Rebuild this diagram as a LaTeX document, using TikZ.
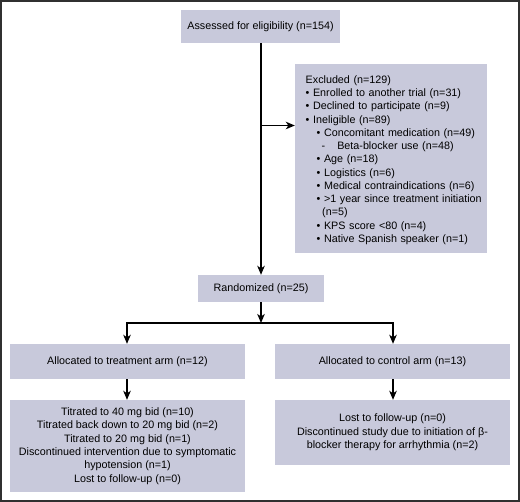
\documentclass[tikz,border=0pt]{standalone}
\usepackage{fontspec}
\setmainfont{Liberation Sans}
\usetikzlibrary{arrows.meta,positioning}
\definecolor{boxfill}{HTML}{C8C9DB}
\definecolor{frame}{HTML}{303030}
\tikzset{
  box/.style={fill=boxfill, draw=none, inner sep=0pt, align=center, font=\fontsize{10.8}{13.35}\selectfont},
  txt/.style={inner sep=0pt, align=left, font=\fontsize{10.8}{13.3}\selectfont},
  conn/.style={line width=1.4bp, -{Stealth[length=9bp,width=7.5bp,inset=2.5bp]}},
  plain/.style={line width=1.4bp}
}
\begin{document}
\begin{tikzpicture}[x=1bp,y=-1bp]
\useasboundingbox (0,0) rectangle (520,502);
\draw[frame, line width=2bp] (1,1) rectangle (519,501);
% boxes
\node[box, minimum width=159bp, minimum height=33bp] (assess) at (260.5,26.5) {Assessed for eligibility (n=154)};
\node[box, minimum width=192bp, minimum height=189bp] (excl) at (391,158.5) {};
\node[txt, text width=180bp, anchor=west] (excltext) at (305.5,160) {Excluded (n=129)\\
\textbullet\ Enrolled to another trial (n=31)\\
\textbullet\ Declined to participate (n=9)\\
\textbullet\ Ineligible (n=89)\\
\hspace*{11bp}\textbullet\ Concomitant medication (n=49)\\
\hspace*{16bp}-\hspace*{12bp}Beta-blocker use (n=48)\\
\hspace*{11bp}\textbullet\ Age (n=18)\\
\hspace*{11bp}\textbullet\ Logistics (n=6)\\
\hspace*{11bp}\textbullet\ Medical contraindications (n=6)\\
\hspace*{11bp}\textbullet\ >1 year since treatment initiation\\
\hspace*{16.5bp}(n=5)\\
\hspace*{11bp}\textbullet\ KPS score <80 (n=4)\\
\hspace*{11bp}\textbullet\ Native Spanish speaker (n=1)};
\node[box, minimum width=126bp, minimum height=27bp] (rand) at (261,288.5) {Randomized (n=25)};
\node[box, minimum width=235bp, minimum height=35bp] (treat) at (127.5,361.5) {Allocated to treatment arm (n=12)};
\node[box, minimum width=235bp, minimum height=35bp] (ctrl) at (392.5,361.5) {Allocated to control arm (n=13)};
\node[box, minimum width=235bp, minimum height=92bp] (treatout) at (127.5,446) {Titrated to 40 mg bid (n=10)\\
Titrated back down to 20 mg bid (n=2)\\
Titrated to 20 mg bid (n=1)\\
Discontinued intervention due to symptomatic\\
hypotension (n=1)\\
Lost to follow-up (n=0)};
\node[box, minimum width=235bp, minimum height=65bp] (ctrlout) at (392.5,432.5) {Lost to follow-up (n=0)\\
Discontinued study due to initiation of β-\\
blocker therapy for arrhythmia (n=2)};
% connectors
\coordinate (split) at (261,125.5);
\coordinate (fork) at (261,323);
\coordinate (forkL) at (127,323);
\coordinate (forkR) at (393,323);
\draw[conn] (assess.south -| split) -- (rand.north -| split);
\draw[conn] (split) -- (excl.west |- split);
\draw[conn] (rand.south -| fork) -- (fork);
\draw[plain, line cap=rect] (forkL) -- (forkR);
\draw[conn] (forkL) -- (treat.north -| forkL);
\draw[conn] (forkR) -- (ctrl.north -| forkR);
\draw[conn] (treat.south -| forkL) -- (treatout.north -| forkL);
\draw[conn] (ctrl.south -| forkR) -- (ctrlout.north -| forkR);
\end{tikzpicture}
\end{document}
